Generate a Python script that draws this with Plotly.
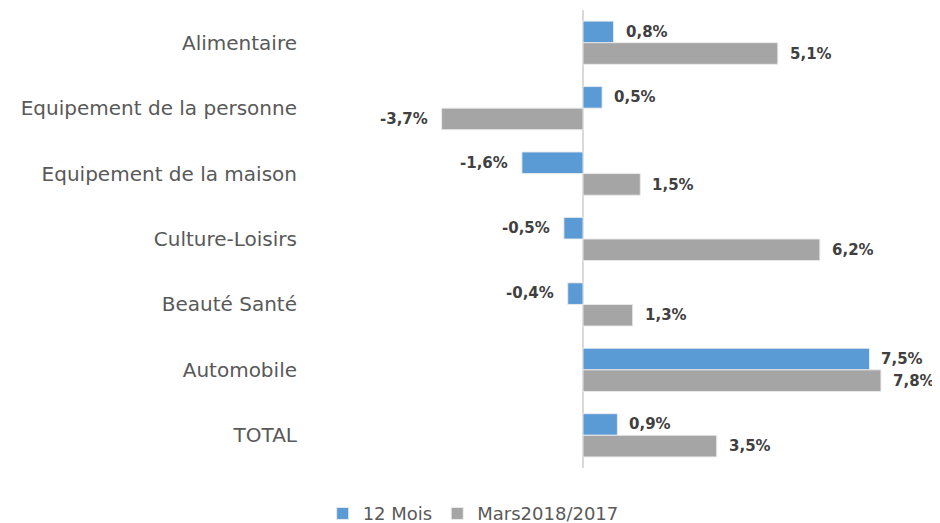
import plotly.graph_objects as go

categories = ["Alimentaire", "Equipement de la personne", "Equipement de la maison",
              "Culture-Loisirs", "Beauté Santé", "Automobile", "TOTAL"]
mois12 = [0.8, 0.5, -1.6, -0.5, -0.4, 7.5, 0.9]
mars = [5.1, -3.7, 1.5, 6.2, 1.3, 7.8, 3.5]
series_names = ["12 Mois", "Mars2018/2017"]
colors = ["#5B9BD5", "#A5A5A5"]

FONT = "DejaVu Sans"

fig = go.Figure()
for name, vals, col in zip(series_names, [mois12, mars], colors):
    fig.add_trace(go.Bar(
        y=categories, x=vals, orientation="h", name=name,
        marker=dict(color=col, line=dict(color="rgba(235,235,235,0.9)", width=1)),
        hoverinfo="skip",
    ))

def fmt(v):
    return f"{v:.1f}".replace(".", ",") + "%"

annotations = []
for vals, ysh in [(mois12, 11), (mars, -11)]:
    for c, v in zip(categories, vals):
        annotations.append(dict(
            x=v, y=c, text=fmt(v), showarrow=False,
            xanchor="left" if v >= 0 else "right",
            xshift=10 if v >= 0 else -12, yshift=ysh,
            font=dict(family=FONT, size=15, color="#404040", weight="bold"),
        ))

fig.update_layout(
    width=932, height=515,
    margin=dict(l=302, r=0, t=2, b=55),
    paper_bgcolor="white", plot_bgcolor="white",
    barmode="group", bargap=0.34, bargroupgap=0,
    annotations=annotations,
    xaxis=dict(range=[-7.147, 9.346], showgrid=False, showticklabels=False,
               zeroline=True, zerolinecolor="#D9D9D9", zerolinewidth=2, fixedrange=True),
    yaxis=dict(autorange="reversed", showgrid=False, ticks="outside", ticklen=8,
               tickcolor="rgba(0,0,0,0)", showline=False, automargin=False,
               tickfont=dict(family=FONT, size=20, color="#595959")),
    legend=dict(orientation="h", x=0.259, xanchor="center",
                y=0.018, yanchor="middle", yref="container",
                font=dict(family=FONT, size=18, color="#595959"), traceorder="normal",
                itemwidth=30),
    showlegend=True,
)

fig.write_html("out.html")
